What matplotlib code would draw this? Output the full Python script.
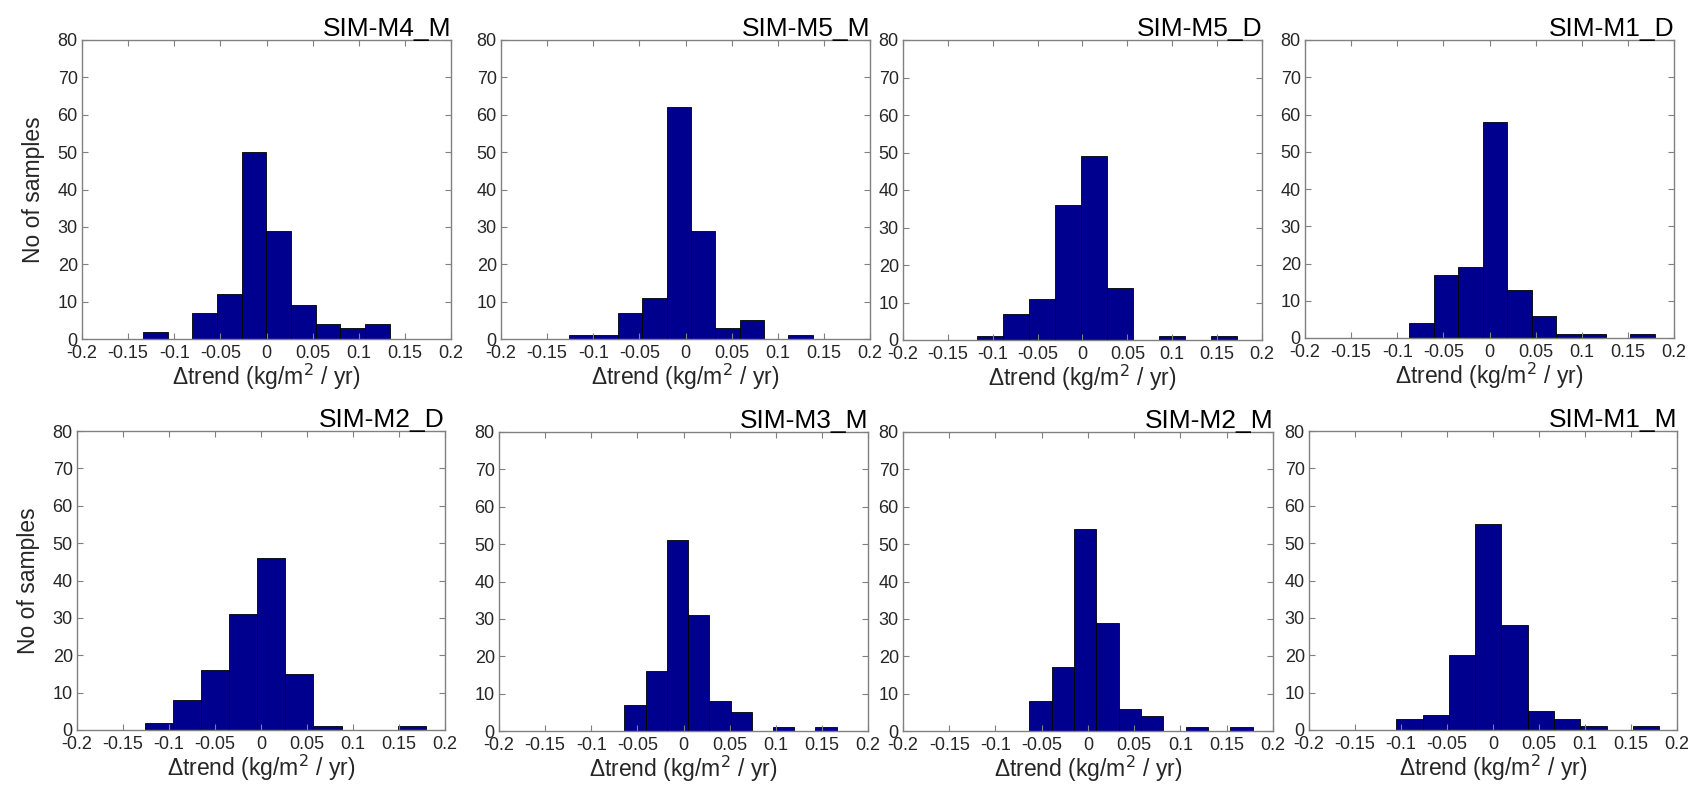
import numpy as np
import matplotlib
matplotlib.use("Agg")
import matplotlib.pyplot as plt

plt.rcParams['font.family'] = ['Liberation Sans', 'DejaVu Sans']

# --- data: 10 equal bins between lo and hi, counts per bin ---
titles = ['SIM-M4_M', 'SIM-M5_M', 'SIM-M5_D', 'SIM-M1_D',
          'SIM-M2_D', 'SIM-M3_M', 'SIM-M2_M', 'SIM-M1_M']
bin_lo = [-0.134, -0.126, -0.117, -0.087, -0.126, -0.064, -0.0635, -0.105]
bin_hi = [0.1335, 0.138, 0.172, 0.179, 0.179, 0.166, 0.178, 0.1805]
counts_m4_m = [2, 0, 7, 12, 50, 29, 9, 4, 3, 4]
counts_m5_m = [1, 1, 7, 11, 62, 29, 3, 5, 0, 1]
counts_m5_d = [1, 7, 11, 36, 49, 14, 0, 1, 0, 1]
counts_m1_d = [4, 17, 19, 58, 13, 6, 1, 1, 0, 1]
counts_m2_d = [2, 8, 16, 31, 46, 15, 1, 0, 0, 1]
counts_m3_m = [7, 16, 51, 31, 8, 5, 0, 1, 0, 1]
counts_m2_m = [8, 17, 54, 29, 6, 4, 0, 1, 0, 1]
counts_m1_m = [3, 4, 20, 55, 28, 5, 3, 1, 0, 1]
all_counts = [counts_m4_m, counts_m5_m, counts_m5_d, counts_m1_d,
              counts_m2_d, counts_m3_m, counts_m2_m, counts_m1_m]

xticks = [-0.2, -0.15, -0.1, -0.05, 0, 0.05, 0.1, 0.15, 0.2]
xticklabels = ['-0.2', '-0.15', '-0.1', '-0.05', '0', '0.05', '0.1', '0.15', '0.2']
yticks = [0, 10, 20, 30, 40, 50, 60, 70, 80]

W, H = 1688, 785
BAR_COLOR = '#00008F'
AX_COLOR = '#808080'
TXT = '#262626'

# axes boxes in pixels (left, top, right, bottom)
boxes = [(82, 40, 451, 339), (501, 40, 870, 339), (903, 40, 1262, 340), (1305, 40, 1674, 338),
         (77, 431, 445, 730), (499, 432, 868, 731), (903, 432, 1273, 731), (1309, 431, 1677, 730)]

fig = plt.figure(figsize=(W / 100, H / 100), dpi=100, facecolor='white')

for i, (l, t, r, b) in enumerate(boxes):
    ax = fig.add_axes([l / W, 1 - b / H, (r - l) / W, (b - t) / H])
    edges = np.linspace(bin_lo[i], bin_hi[i], 11)
    centers = (edges[:-1] + edges[1:]) / 2
    ax.hist(centers, bins=edges, weights=all_counts[i], color=BAR_COLOR,
            edgecolor='black', linewidth=0.6)
    ax.set_xlim(-0.2, 0.2)
    ax.set_ylim(0, 80)
    ax.set_xticks(xticks)
    ax.set_xticklabels(xticklabels)
    ax.set_yticks(yticks)
    ax.tick_params(direction='in', length=4, width=0.8, color=AX_COLOR,
                   top=True, right=True, labelsize=13, labelcolor=TXT)
    ax.tick_params(axis='x', pad=4)
    ax.tick_params(axis='y', pad=3)
    for s in ax.spines.values():
        s.set_color(AX_COLOR)
        s.set_linewidth(1.0)
    ax.set_title(titles[i], loc='right', fontsize=19, pad=3, color='black')
    ax.set_xlabel('Δtrend (kg/m$^2$ / yr)', fontsize=16.5, color=TXT, labelpad=0)
    if i % 4 == 0:
        ax.set_ylabel('No of samples', fontsize=16.5, color=TXT, labelpad=9)

fig.savefig('out.png', dpi=100, facecolor='white')
